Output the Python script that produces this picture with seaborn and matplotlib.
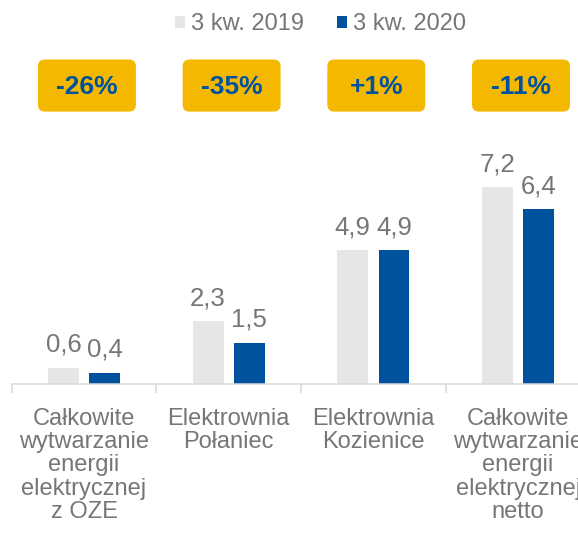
import matplotlib.pyplot as plt
import seaborn as sns
import pandas as pd
from matplotlib.patches import FancyBboxPatch

# Dane
kategorie = [
    'Całkowite\nwytwarzanie\nenergii\nelektrycznej\nz OZE',
    'Elektrownia\nPołaniec',
    'Elektrownia\nKozienice',
    'Całkowite\nwytwarzanie\nenergii\nelektrycznej\nnetto',
]
okresy = ['3 kw. 2019', '3 kw. 2020']
wartosci_2019 = [0.6, 2.3, 4.9, 7.2]
wartosci_2020 = [0.4, 1.5, 4.9, 6.4]
zmiany = ['-26%', '-35%', '+1%', '-11%']

ds = pd.DataFrame({
    'kategoria': kategorie * 2,
    'okres': [okresy[0]] * 4 + [okresy[1]] * 4,
    'wartosc': wartosci_2019 + wartosci_2020,
})

SZARY_TEKST = '#767676'
SZARY_SLUPEK = '#E6E6E6'
NIEBIESKI = '#00529F'
ZOLTY = '#F5B800'
LINIA = '#D9D9D9'

# Ustawienia wizualizacji
sns.set_theme(style="white")
plt.rcParams['font.family'] = ['Liberation Sans', 'DejaVu Sans']

fig = plt.figure(figsize=(5.78, 5.37), dpi=100)
ax = fig.add_axes([11.7 / 578, (537 - 384) / 537, 566.3 / 578, 384 / 537])

# Wykres słupkowy
sns.barplot(data=ds, x='kategoria', y='wartosc', hue='okres',
            hue_order=okresy, palette=[SZARY_SLUPEK, NIEBIESKI],
            saturation=1, width=0.57, gap=0.25, errorbar=None,
            linewidth=0, ax=ax)

for cont in ax.containers:
    etykiety = [f'{b.get_height():.1f}'.replace('.', ',') for b in cont]
    ax.bar_label(cont, labels=etykiety, padding=8, fontsize=18.5,
                 color=SZARY_TEKST)

# Osie
for s in ['left', 'right', 'top']:
    ax.spines[s].set_visible(False)
ax.spines['bottom'].set_color(LINIA)
ax.spines['bottom'].set_linewidth(1.1)
ax.set_yticks([])
ax.set_xlabel('')
ax.set_ylabel('')
ax.set_xticks(range(len(kategorie)))
ax.set_xticklabels(kategorie, fontsize=17, color=SZARY_TEKST, linespacing=1.08)
ax.set_xticks([-0.5, 0.5, 1.5, 2.5], minor=True)
ax.tick_params(axis='x', which='major', length=0, pad=17)
ax.tick_params(axis='x', which='minor', length=6.5, width=1.1,
               color=LINIA, direction='out', bottom=True)

ax.set_xlim(-0.5, 3.414)
ax.set_ylim(0, 14.07)

# Ramki ze zmianą procentową
for i, txt in enumerate(zmiany):
    xc = i + 0.02
    box = FancyBboxPatch((xc - 0.3385, 9.98), 0.677, 1.91,
                         boxstyle='round,pad=0,rounding_size=0.048',
                         mutation_aspect=5.3, facecolor=ZOLTY,
                         edgecolor='none', clip_on=False)
    ax.add_patch(box)
    ax.text(xc, 10.9, txt, ha='center', va='center', fontsize=19,
            fontweight='bold', color=NIEBIESKI)

# Legenda
sns.move_legend(ax, 'center', bbox_to_anchor=(0.555, 0.955),
                bbox_transform=fig.transFigure, ncol=2, frameon=False,
                title=None, fontsize=17, handlelength=0.42,
                handleheight=0.42, handletextpad=0.25, columnspacing=1.4,
                labelcolor=SZARY_TEKST)

ax.set_xlim(-0.5, 3.414)

plt.savefig('out.png', dpi=100)
